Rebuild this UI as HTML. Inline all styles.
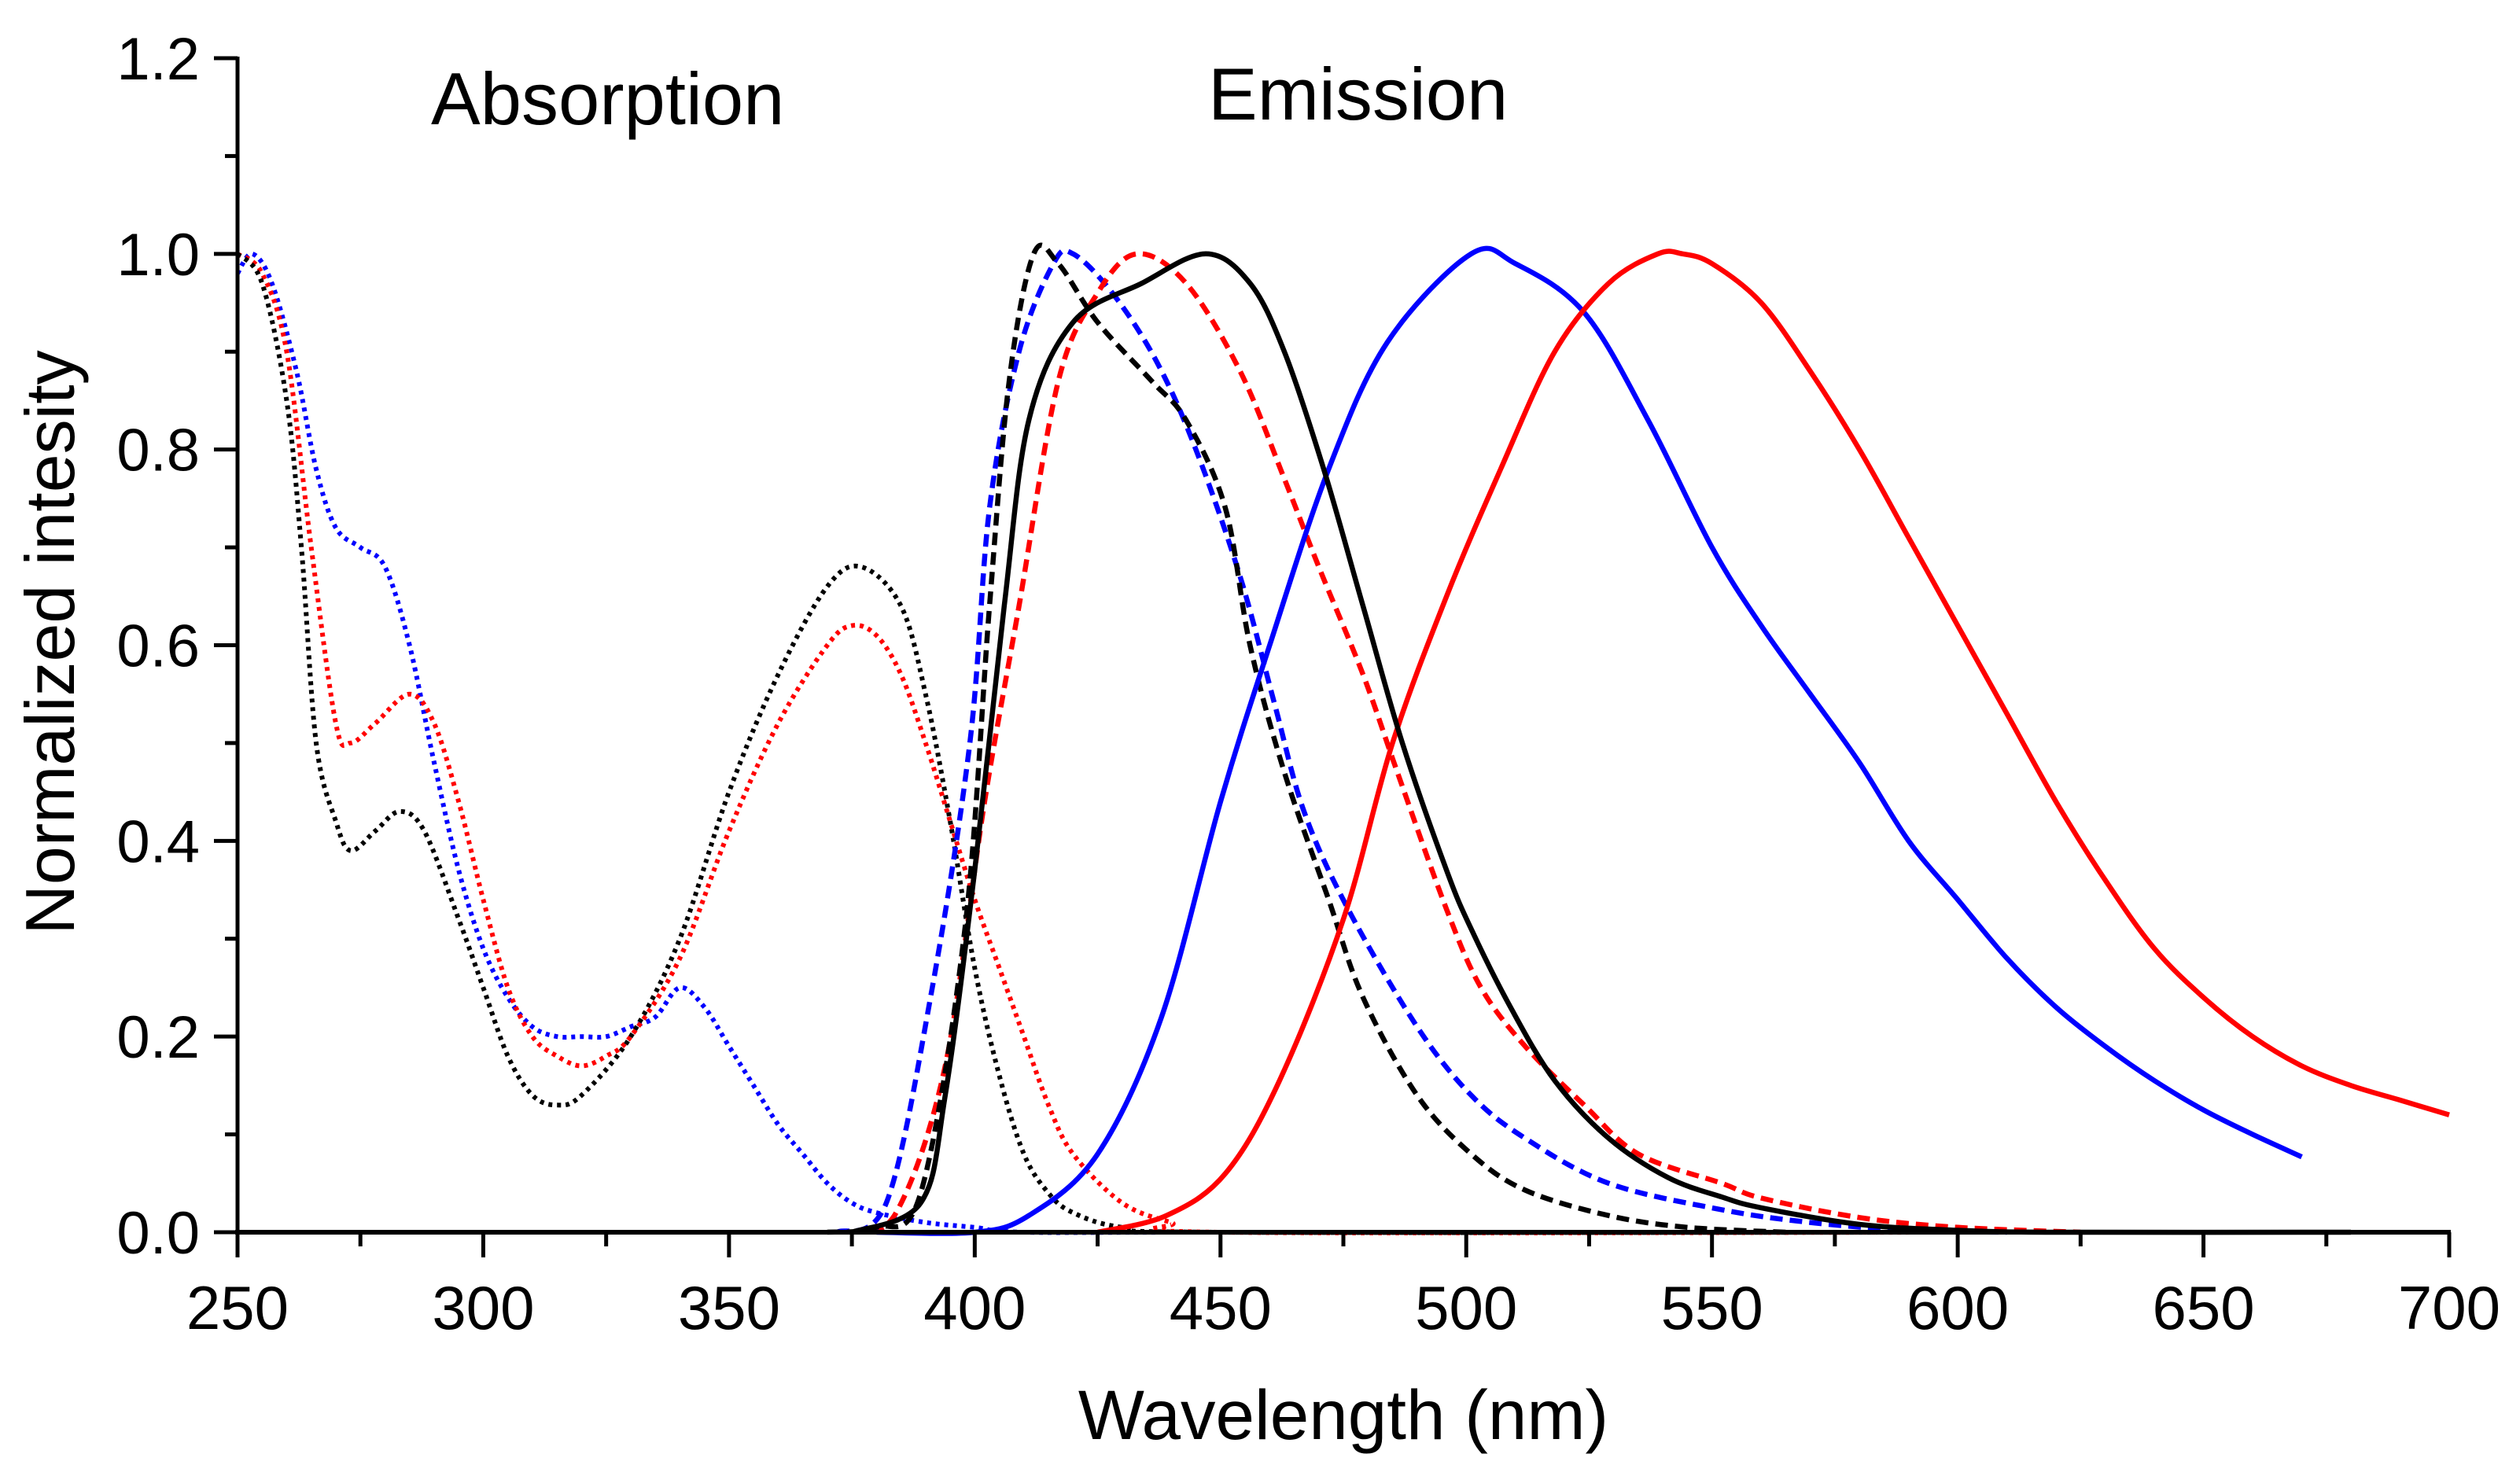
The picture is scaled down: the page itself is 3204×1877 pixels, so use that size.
<!DOCTYPE html>
<html><head><meta charset="utf-8"><style>
html,body{margin:0;padding:0;background:#fff;}
svg{display:block;font-family:"Liberation Sans",Arial,sans-serif;}
</style></head><body>
<svg id="chart" width="3204" height="1877" viewBox="0 0 3204 1877" xmlns="http://www.w3.org/2000/svg">
<g id="series"></g>
<g id="axes"></g>
<text x="1708" y="1830" font-size="89" text-anchor="middle">Wavelength (nm)</text>
<text transform="translate(94,817) rotate(-90)" font-size="88" text-anchor="middle">Normalized intesity</text>
<text x="548" y="158" font-size="94">Absorption</text>
<text x="1536" y="152" font-size="94">Emission</text>
</svg>
<script>
const xTicks=[250,300,350,400,450,500,550,600,650,700];
const yTicks=[0.0,0.2,0.4,0.6,0.8,1.0,1.2];
const absBlackX=[250,255,260,263,266,270,273,278,283,288,295,300,305,310,315,320,330,340,350,360,370,377,385,390,395,400,405,410,415,420,430,450,600];
const absBlackY=[1.0,0.97,0.85,0.7,0.5,0.42,0.39,0.41,0.43,0.41,0.32,0.25,0.18,0.14,0.13,0.14,0.2,0.3,0.45,0.57,0.66,0.68,0.64,0.55,0.42,0.27,0.16,0.08,0.04,0.02,0.005,0,0];
const absRedX=[250,255,260,265,270,273,278,285,290,295,300,305,310,315,320,325,330,340,350,360,370,375,380,385,390,395,400,405,410,415,420,430,440,450,600];
const absRedY=[1.0,0.98,0.9,0.7,0.52,0.5,0.52,0.55,0.52,0.44,0.34,0.25,0.2,0.18,0.17,0.18,0.2,0.28,0.41,0.52,0.6,0.62,0.61,0.57,0.5,0.42,0.34,0.27,0.2,0.13,0.08,0.03,0.01,0,0];
const absBlueX=[250,253,257,262,266,270,275,280,285,290,295,300,305,310,315,320,325,330,335,340,345,350,355,360,365,370,375,380,390,400,410,450,600];
const absBlueY=[0.98,1.0,0.97,0.88,0.78,0.72,0.7,0.68,0.6,0.48,0.37,0.29,0.24,0.21,0.2,0.2,0.2,0.21,0.22,0.25,0.23,0.19,0.15,0.11,0.08,0.05,0.03,0.02,0.01,0.005,0,0,0];
const emDashBlackX=[370,380,389,398,403,407,412,417,425,436,443,451,456,463,472,479,490,501,512,529,545,565];
const emDashBlackY=[0,0.005,0.04,0.31,0.64,0.87,1.0,0.99,0.93,0.87,0.83,0.74,0.6,0.47,0.34,0.24,0.14,0.08,0.043,0.017,0.005,0];
const emDashBlueX=[372,382,391,399,403,409,416,420,428,437,445,454,461,467,476,490,501,512,529,552,570,590,610];
const emDashBlueY=[0,0.03,0.24,0.5,0.74,0.9,0.99,1.0,0.96,0.89,0.8,0.67,0.54,0.43,0.33,0.21,0.14,0.096,0.05,0.023,0.01,0.002,0];
const emDashRedX=[375,384,394,402,409,417,425,433,443,454,463,470,479,486,496,503,512,524,535,552,560,580,600,625];
const emDashRedY=[0,0.02,0.17,0.44,0.64,0.87,0.96,1.0,0.97,0.88,0.77,0.68,0.57,0.47,0.33,0.25,0.19,0.13,0.08,0.05,0.035,0.015,0.005,0];
const emBlackX=[375,389,394,400,406,411,420,434,447,456,463,471,479,487,496,501,509,518,529,541,552,560,580,600,620,680];
const emBlackY=[0,0.03,0.14,0.37,0.64,0.83,0.93,0.97,1.0,0.97,0.9,0.78,0.64,0.5,0.37,0.31,0.23,0.155,0.096,0.056,0.036,0.025,0.008,0.002,0,0];
const emBlueX=[380,400,411,425,438,450,460,472,484,501,510,524,537,550,560,570,580,590,600,610,620,630,640,650,660,670];
const emBlueY=[0,0,0.017,0.08,0.22,0.44,0.6,0.78,0.91,1.0,0.99,0.94,0.83,0.7,0.62,0.55,0.48,0.4,0.34,0.28,0.23,0.19,0.155,0.125,0.1,0.077];
const emRedX=[425,439,451,462,475,485,496,507,518,529,539,544,550,560,570,580,590,600,610,620,630,640,650,660,670,680,690,700];
const emRedY=[0,0.017,0.06,0.155,0.32,0.5,0.65,0.78,0.9,0.97,1.0,1.0,0.99,0.95,0.88,0.8,0.71,0.62,0.53,0.44,0.36,0.29,0.24,0.2,0.17,0.15,0.135,0.12];

const X0=302,X1=3114,Y0=1567,Y1=74;
function sx(v){return X0+(v-250)/(700-250)*(X1-X0);}
function sy(v){return Y0-(v-0)/(1.2-0)*(Y0-Y1);}
const NS='http://www.w3.org/2000/svg';
function pathD(xs,ys){
  const p=xs.map((x,i)=>[sx(x),sy(ys[i])]);
  let d='M'+p[0][0].toFixed(1)+','+p[0][1].toFixed(1);
  for(let i=0;i<p.length-1;i++){
    const a=p[Math.max(0,i-1)],b=p[i],c=p[i+1],e=p[Math.min(p.length-1,i+2)];
    const c1=[b[0]+(c[0]-a[0])/6,b[1]+(c[1]-a[1])/6];
    const c2=[c[0]-(e[0]-b[0])/6,c[1]-(e[1]-b[1])/6];
    d+='C'+c1[0].toFixed(1)+','+c1[1].toFixed(1)+' '+c2[0].toFixed(1)+','+c2[1].toFixed(1)+' '+c[0].toFixed(1)+','+c[1].toFixed(1);
  }
  return d;
}
const sg=document.getElementById('series');
function addSeries(name,xs,ys,color,dash){
  const el=document.createElementNS(NS,'path');
  el.setAttribute('d',pathD(xs,ys));
  el.setAttribute('fill','none');
  el.setAttribute('stroke',color);
  el.setAttribute('stroke-width',dash==='dot'?6:6.5);
  if(dash==='dot'){el.setAttribute('stroke-dasharray','5 6');}
  if(dash==='dash'){el.setAttribute('stroke-dasharray','16 9');}
  
  
  sg.appendChild(el);
}
addSeries('absorption-blue',absBlueX,absBlueY,'#0000ff','dot');
addSeries('absorption-red',absRedX,absRedY,'#ff0000','dot');
addSeries('absorption-black',absBlackX,absBlackY,'#000000','dot');
addSeries('emission-dashed-blue',emDashBlueX,emDashBlueY,'#0000ff','dash');
addSeries('emission-dashed-red',emDashRedX,emDashRedY,'#ff0000','dash');
addSeries('emission-dashed-black',emDashBlackX,emDashBlackY,'#000000','dash');
addSeries('emission-solid-blue',emBlueX,emBlueY,'#0000ff','');
addSeries('emission-solid-red',emRedX,emRedY,'#ff0000','');
addSeries('emission-solid-black',emBlackX,emBlackY,'#000000','');

const ag=document.getElementById('axes');
function line(x1,y1,x2,y2,w,name){
  const l=document.createElementNS(NS,'line');
  l.setAttribute('x1',x1);l.setAttribute('y1',y1);l.setAttribute('x2',x2);l.setAttribute('y2',y2);
  l.setAttribute('stroke','#000');l.setAttribute('stroke-width',w);
  
  
  ag.appendChild(l);
}
function text(x,y,s,anchor,size,name){
  const t=document.createElementNS(NS,'text');
  t.setAttribute('x',x);t.setAttribute('y',y);t.setAttribute('text-anchor',anchor);
  t.setAttribute('font-size',size);t.textContent=s;
  
  
  ag.appendChild(t);
}
line(X0,Y1-2,X0,Y0+3,5,'y-axis-line');
line(X0-3,Y0,X1+2,Y0,6,'x-axis-line');
xTicks.forEach((v,i)=>{
  line(sx(v),Y0,sx(v),Y0+32,5,'x-tick');
  text(sx(v),1690,String(v),'middle',78,'x-tick-label');
  if(i<xTicks.length-1){const m=v+25;line(sx(m),Y0,sx(m),Y0+18,5,'x-minor-tick');}
});
yTicks.forEach((v,i)=>{
  line(X0-30,sy(v),X0,sy(v),5,'y-tick');
  text(X0-48,sy(v)+27,v.toFixed(1),'end',76,'y-tick-label');
  if(i<yTicks.length-1){const m=v+0.1;line(X0-16,sy(m),X0,sy(m),5,'y-minor-tick');}
});
</script>
</body></html>
